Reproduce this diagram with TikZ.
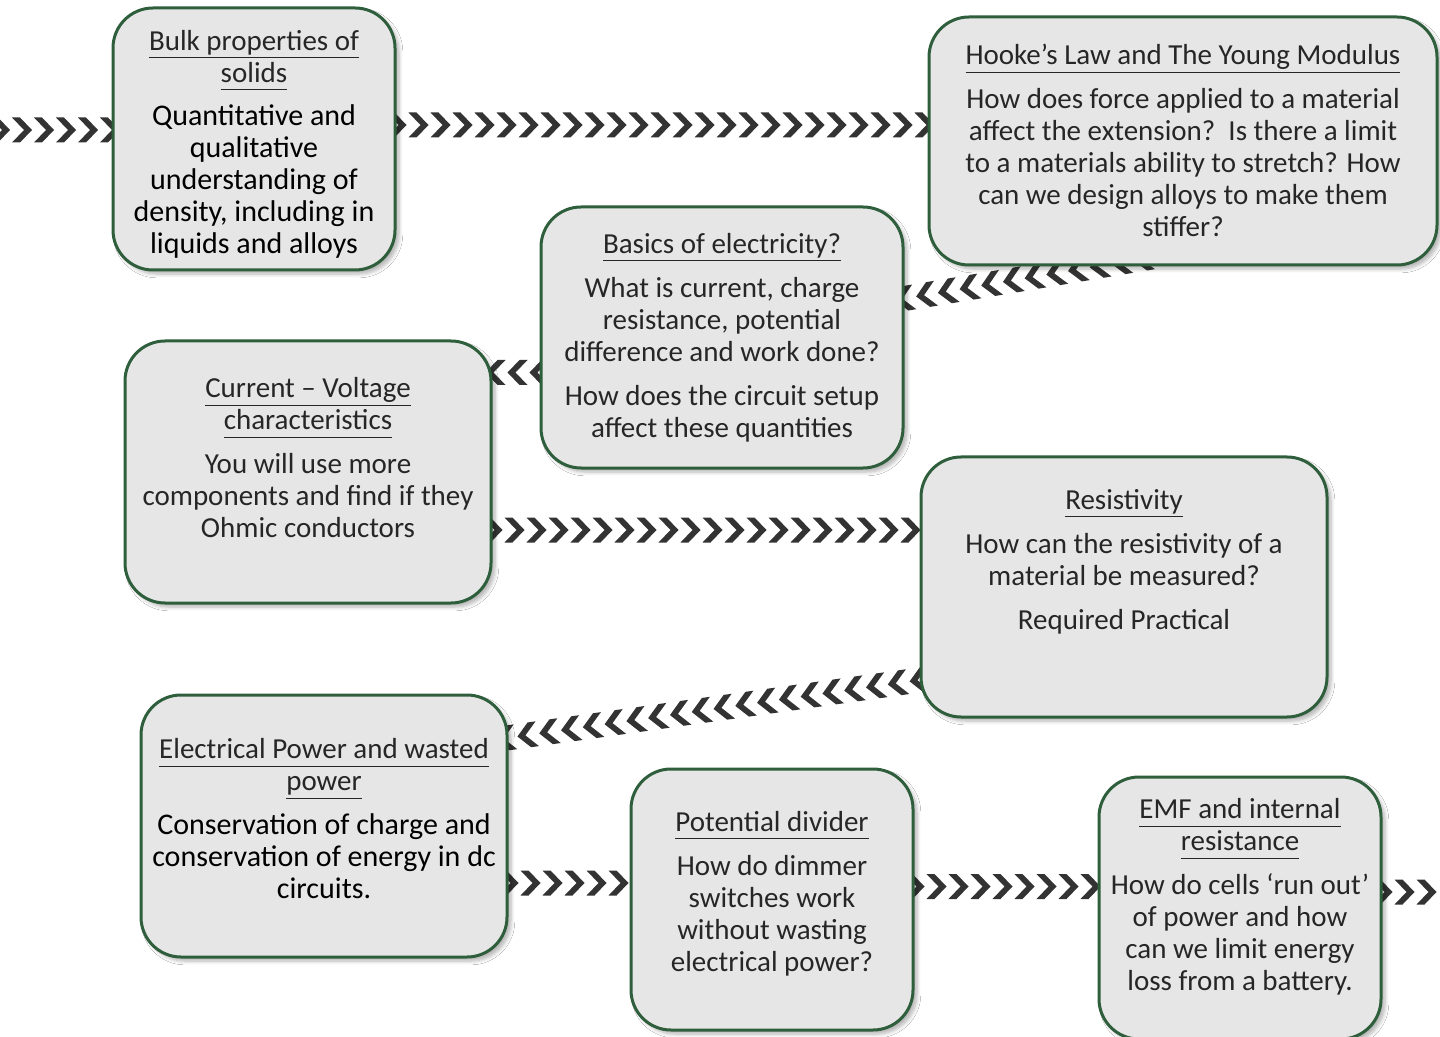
\documentclass[tikz,border=0pt]{standalone}
\usepackage{fontspec}
\setmainfont{Carlito}
\usetikzlibrary{positioning,decorations.markings,backgrounds,shadows.blur}

\definecolor{cardfill}{HTML}{E6E6E6}
\definecolor{cardline}{HTML}{2F5E3C}
\definecolor{chevgrey}{HTML}{333333}
\definecolor{inkgrey}{HTML}{262626}

\newcommand{\ttl}[1]{{\color{inkgrey}\fontsize{14.5}{16}\selectfont\underline{#1\vphantom{p}}}}
\newcommand{\chev}{\fill[chevgrey] (-5pt,6.25pt) -- (-1pt,6.25pt) -- (5pt,0pt) -- (-1pt,-6.25pt) -- (-5pt,-6.25pt) -- (1pt,0pt) -- cycle;}

\begin{document}
\begin{tikzpicture}[x=0.5pt,y=-0.5pt,
    card/.style={draw=cardline, line width=1.5pt, fill=cardfill, rounded corners=20pt,
        blur shadow={shadow xshift=2pt, shadow yshift=-2pt, shadow blur steps=6, shadow opacity=30}},
    cardtext/.style={align=center, text=inkgrey, font=\fontsize{14.5}{16}\selectfont},
    boldtext/.style={cardtext, text=black, font=\fontsize{15}{16}\selectfont},
    chevrons/.style={decorate, decoration={markings,
        mark=between positions 0 and 1 step 11pt with {\chev}}}]
\useasboundingbox (0,0) rectangle (1440,1037);

% the cards
\node[card, minimum width=141pt, minimum height=131pt] (bulk) at (254,139) {};
\node[card, minimum width=254pt, minimum height=124pt] (hooke) at (1183,141) {};
\node[card, minimum width=181pt, minimum height=130.5pt] (basics) at (722,337.5) {};
\node[card, minimum width=183pt, minimum height=131pt] (cv) at (308,472) {};
\node[card, minimum width=203pt, minimum height=130pt] (resist) at (1124,587) {};
\node[card, minimum width=183pt, minimum height=131pt] (power) at (324,826) {};
\node[card, minimum width=141pt, minimum height=130.5pt] (divider) at (772,899.5) {};
\node[card, minimum width=141pt, minimum height=131pt] (emf) at (1240,908) {};

% texts
\node[boldtext, yshift=-2.5pt] (bulk-txt) at (bulk.center) {\ttl{Bulk properties of}\\\ttl{solids}\\[5.5pt]
    Quantitative and\\qualitative\\understanding of\\density, including in\\liquids and alloys};
\node[cardtext, yshift=0.25pt] (hooke-txt) at (hooke.center) {\ttl{Hooke’s Law and The Young Modulus}\\[6pt]
    How does force applied to a material\\affect the extension?\ \ Is there a limit\\to a materials ability to stretch? How\\can we design alloys to make them\\stiffer?};
\node[cardtext, yshift=0pt] (basics-txt) at (basics.center) {\ttl{Basics of electricity?}\\[6pt]
    What is current, charge\\resistance, potential\\difference and work done?\\[6pt]
    How does the circuit setup\\affect these quantities};
\node[cardtext, yshift=7.25pt] (cv-txt) at (cv.center) {\ttl{Current -- Voltage}\\\ttl{characteristics}\\[6pt]
    You will use more\\components and find if they\\Ohmic conductors};
\node[cardtext, yshift=12.75pt] (resist-txt) at (resist.center) {\ttl{Resistivity}\\[6pt]
    How can the resistivity of a\\material be measured?\\[6pt]
    Required Practical};
\node[boldtext, yshift=3.5pt] (power-txt) at (power.center) {\ttl{Electrical Power and wasted}\\\ttl{power}\\[6pt]
    Conservation of charge and\\conservation of energy in dc\\circuits.};
\node[cardtext, yshift=3pt] (divider-txt) at (divider.center) {\ttl{Potential divider}\\[6pt]
    How do dimmer\\switches work\\without wasting\\electrical power?};
\node[cardtext, yshift=5.5pt] (emf-txt) at (emf.center) {\ttl{EMF and internal}\\\ttl{resistance}\\[6pt]
    How do cells ‘run out’\\of power and how\\can we limit energy\\loss from a battery.};

% chevron trails behind the cards
\coordinate (in) at (0,130);
\coordinate (out) at (1440,892);
\begin{scope}[on background layer]
\fill[white] (0,0) rectangle (1440,1037);
\path[chevrons] (in) -- ([xshift=6pt]in -| bulk.west);
\path[chevrons] ([yshift=7pt]bulk.east) -- ([xshift=6pt,yshift=7pt]bulk.east -| hooke.west);
\path[chevrons] ([xshift=-20pt,yshift=4pt]hooke.south) -- ([xshift=-6pt,yshift=18.5pt]basics.east);
\path[chevrons] ([yshift=-17.5pt]basics.west) -- ([xshift=-6pt,yshift=-17.5pt]basics.west -| cv.east);
\path[chevrons] ([yshift=-29pt]cv.east) -- ([xshift=6pt,yshift=-29pt]cv.east -| resist.west);
\path[chevrons] ([yshift=-46.5pt]resist.west) -- ([xshift=-8pt,yshift=43pt]power.east);
\path[chevrons] ([yshift=-28.5pt]power.east) -- ([xshift=6pt,yshift=-28.5pt]power.east -| divider.west);
\path[chevrons] ([yshift=6.5pt]divider.east) -- ([xshift=6pt,yshift=6.5pt]divider.east -| emf.west);
\path[chevrons] (emf.east |- out) -- (out);
\end{scope}
\end{tikzpicture}
\end{document}
